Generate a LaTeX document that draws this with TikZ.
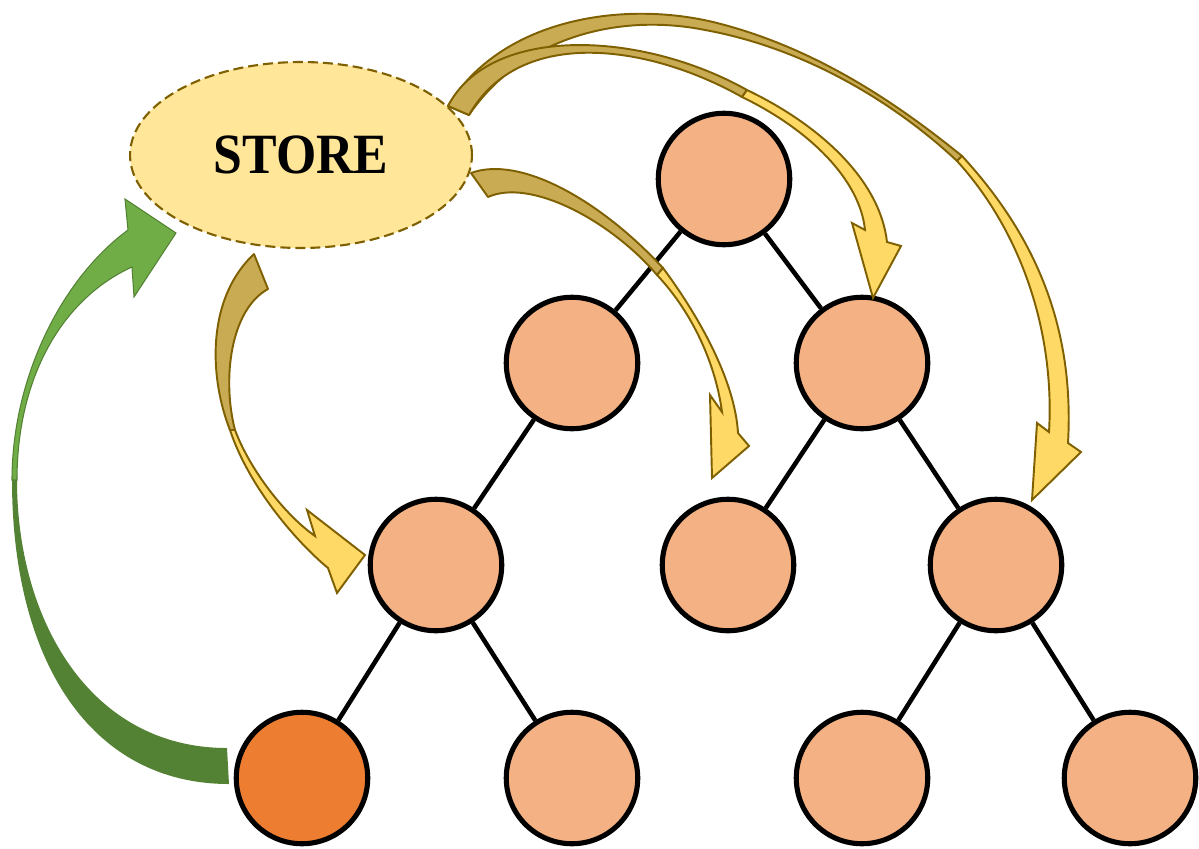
\documentclass[tikz,border=0pt]{standalone}
\usepackage{fontspec}
\setmainfont{Liberation Serif}
\newfontfamily\storefont[FakeStretch=0.91]{Liberation Serif}
\usetikzlibrary{shapes.geometric}
\definecolor{orangeclair}{HTML}{F4B183}
\definecolor{orangefonce}{HTML}{ED7D31}
\definecolor{jaunestore}{HTML}{FFE699}
\definecolor{brunbord}{HTML}{7F6000}
\definecolor{jaunedos}{HTML}{C9AB53}
\definecolor{jauneface}{HTML}{FFD966}
\definecolor{vertclair}{HTML}{70AD47}
\definecolor{vertfonce}{HTML}{548235}
\tikzset{
  noeud/.style={circle, draw=black, line width=2.9pt, fill=orangeclair, minimum size=2.63cm, inner sep=0pt},
  arete/.style={line width=2.6pt},
  dos/.style={fill=jaunedos, draw=brunbord, line width=1.1pt, line join=round},
  face/.style={fill=jauneface, draw=brunbord, line width=1.1pt, line join=miter},
}
\begin{document}
\begin{tikzpicture}[x=0.02cm, y=-0.02cm]
        \useasboundingbox (0,0) rectangle (1199,848);
        % Arbre
        \node[noeud] (n0) at (724,179) {};
        \node[noeud] (n1) at (572,363) {};
        \node[noeud] (n2) at (862,363) {};
        \node[noeud] (n3) at (436,565) {};
        \node[noeud] (n4) at (728,565) {};
        \node[noeud] (n5) at (996,565) {};
        \node[noeud, fill=orangefonce] (n6) at (302,778) {};
        \node[noeud] (n7) at (572,778) {};
        \node[noeud] (n8) at (862,778) {};
        \node[noeud] (n9) at (1130,778) {};
        % Aretes
        \draw[arete] (n0) -- (n1);
        \draw[arete] (n0) -- (n2);
        \draw[arete] (n1) -- (n3);
        \draw[arete] (n2) -- (n4);
        \draw[arete] (n2) -- (n5);
        \draw[arete] (n3) -- (n6);
        \draw[arete] (n3) -- (n7);
        \draw[arete] (n5) -- (n8);
        \draw[arete] (n5) -- (n9);
        % Le store
        \node[ellipse, draw=brunbord, line width=1.2pt, dash pattern=on 0.2cm off 0.1cm, fill=jaunestore,
              minimum width=6.84cm, minimum height=3.72cm, inner sep=0pt] (store) at (301,155)
              {\storefont\bfseries\fontsize{32.4}{38}\selectfont STORE};
        % Fleche verte (feuille -> store)
        \fill[vertfonce] (12,480) .. controls (12,660) and (90,784) .. (229,784) -- (227,748)
              .. controls (90,748) and (17,620) .. (17,480) -- cycle;
        \filldraw[fill=vertclair, draw=vertfonce, line width=0.6pt] (12,480) .. controls (12,380) and (60,280) .. (128,230)
              -- (125,199) -- (176,233) -- (134,297) -- (132,267)
              .. controls (60,300) and (17,380) .. (17,480) -- cycle;
        % Fleche vers n3
        \filldraw[dos] (230,430) .. controls (210,380) and (205,300) .. (254,254) -- (268,289)
              .. controls (230,310) and (222,380) .. (235,430) -- cycle;
        \filldraw[face] (230,430) .. controls (250,490) and (300,545) .. (328,568)
              -- (337,593) -- (365,555) -- (307,510) -- (315,536)
              .. controls (285,515) and (250,470) .. (235,430) -- cycle;
        % Fleche vers n4
        \filldraw[dos] (663,268) .. controls (600,200) and (520,155) .. (471,173) -- (488,197)
              .. controls (530,178) and (610,220) .. (657,275) -- cycle;
        \filldraw[face] (663,268) .. controls (698,315) and (735,380) .. (738,433)
              -- (749,446) -- (712,478) -- (710,395) -- (722,412)
              .. controls (715,360) and (690,310) .. (657,275) -- cycle;
        % Fleche vers n5
        \filldraw[dos] (448,106) .. controls (500,20) and (620,0) .. (713,22)
              .. controls (820,48) and (905,110) .. (962,156) -- (957,161)
              .. controls (905,112) and (815,50) .. (705,30)
              .. controls (615,12) and (520,40) .. (469,115) -- cycle;
        \filldraw[face] (962,156) .. controls (1030,230) and (1075,320) .. (1068,443)
              -- (1081,452) -- (1032,500) -- (1037,423) -- (1049,432)
              .. controls (1055,330) and (1020,230) .. (957,161) -- cycle;
        % Fleche vers n2
        \filldraw[dos] (448,106) .. controls (490,25) and (640,30) .. (747,90) -- (742,97)
              .. controls (650,45) and (520,25) .. (469,115) -- cycle;
        \filldraw[face] (747,90) .. controls (820,125) and (880,180) .. (887,242)
              -- (901,246) -- (873,298) -- (852,223) -- (865,230)
              .. controls (860,180) and (810,130) .. (742,97) -- cycle;
\end{tikzpicture}
\end{document}
